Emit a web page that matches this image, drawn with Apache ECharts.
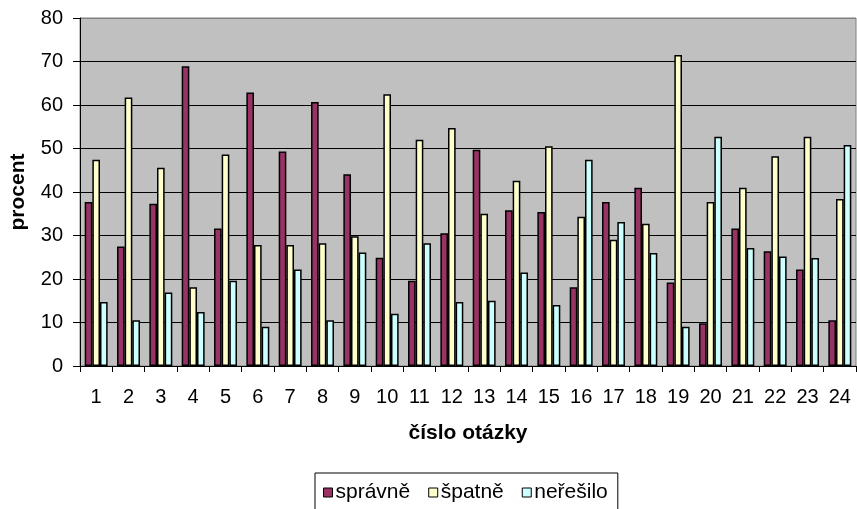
<!DOCTYPE html>
<html>
<head>
<meta charset="utf-8">
<script src="https://cdn.jsdelivr.net/npm/echarts@6/dist/echarts.min.js"></script>
<style>
html,body{margin:0;padding:0;background:#fff;}
#chart{width:857px;height:509px;}
</style>
</head>
<body>
<div id="chart"></div>
<script>
var categories = ['1','2','3','4','5','6','7','8','9','10','11','12','13','14','15','16','17','18','19','20','21','22','23','24'];
var spravne  = [37.7, 27.5, 37.3, 68.9, 31.6, 62.9, 49.3, 60.7, 44.1, 24.9, 19.6, 30.5, 49.7, 35.8, 35.4, 18.1, 37.7, 41.0, 19.2, 9.8, 31.6, 26.4, 22.2, 10.5];
var spatne   = [47.4, 61.7, 45.6, 18.1, 48.6, 27.8, 27.8, 28.2, 29.8, 62.5, 52.0, 54.7, 35.0, 42.6, 50.5, 34.3, 29.0, 32.7, 71.5, 37.7, 41.0, 48.2, 52.7, 38.4];
var neresilo = [14.7, 10.5, 16.9, 12.4, 19.6, 9.0, 22.2, 10.5, 26.1, 12.0, 28.2, 14.7, 15.0, 21.5, 14.0, 47.4, 33.1, 26.0, 9.0, 52.7, 27.1, 25.2, 24.8, 50.8];
var seriesNames = ['správně', 'špatně', 'neřešilo'];

var font = 'Arial, "Liberation Sans", sans-serif';
var chart = echarts.init(document.getElementById('chart'), null, {renderer: 'canvas'});
function bar(name, data, color) {
  return {
    name: name, type: 'bar', data: data,
    barGap: '0%', barCategoryGap: '29%',
    itemStyle: {color: color, borderColor: '#000', borderWidth: 1.5},
    animation: false
  };
}
var gridColors = ['#000','#000','#000','#000','#000','#000','#000','#000','#808080'];
chart.setOption({
  animation: false,
  backgroundColor: '#fff',
  textStyle: {fontFamily: font},
  grid: {left: 79, right: 1, top: 18, bottom: 143, show: true, backgroundColor: '#c0c0c0', borderColor: '#808080', borderWidth: 1},
  legend: {
    left: 315, top: 473,
    padding: [9, 10, 20, 8],
    borderColor: '#000', borderWidth: 1,
    itemWidth: 9, itemHeight: 9, itemGap: 18,
    icon: 'rect',
    itemStyle: {borderColor: '#000', borderWidth: 1},
    textStyle: {fontSize: 21, color: '#000', fontFamily: font, padding: [0, 0, 0, -2]},
    data: seriesNames
  },
  xAxis: {
    type: 'category', data: categories,
    name: 'číslo otázky', nameLocation: 'middle', nameGap: 57,
    nameTextStyle: {fontSize: 21, fontWeight: 'bold', color: '#000', fontFamily: font},
    axisLine: {lineStyle: {color: '#000', width: 1}},
    axisTick: {show: true, length: 6, lineStyle: {color: '#000'}},
    axisLabel: {fontSize: 20, color: '#000', margin: 21, fontFamily: font},
    splitLine: {show: false}
  },
  yAxis: {
    type: 'value', min: 0, max: 80, interval: 10,
    name: 'procent', nameLocation: 'middle', nameGap: 51,
    nameTextStyle: {fontSize: 21, fontWeight: 'bold', color: '#000', fontFamily: font},
    axisLine: {show: true, lineStyle: {color: '#000', width: 1}},
    axisTick: {show: true, length: 7, lineStyle: {color: '#000'}},
    axisLabel: {fontSize: 20, color: '#000', margin: 17, fontFamily: font},
    splitLine: {show: true, lineStyle: {color: gridColors, width: 1}}
  },
  series: [
    bar(seriesNames[0], spravne, '#993366'),
    bar(seriesNames[1], spatne, '#ffffcc'),
    bar(seriesNames[2], neresilo, '#ccffff')
  ]
});
</script>
</body>
</html>
